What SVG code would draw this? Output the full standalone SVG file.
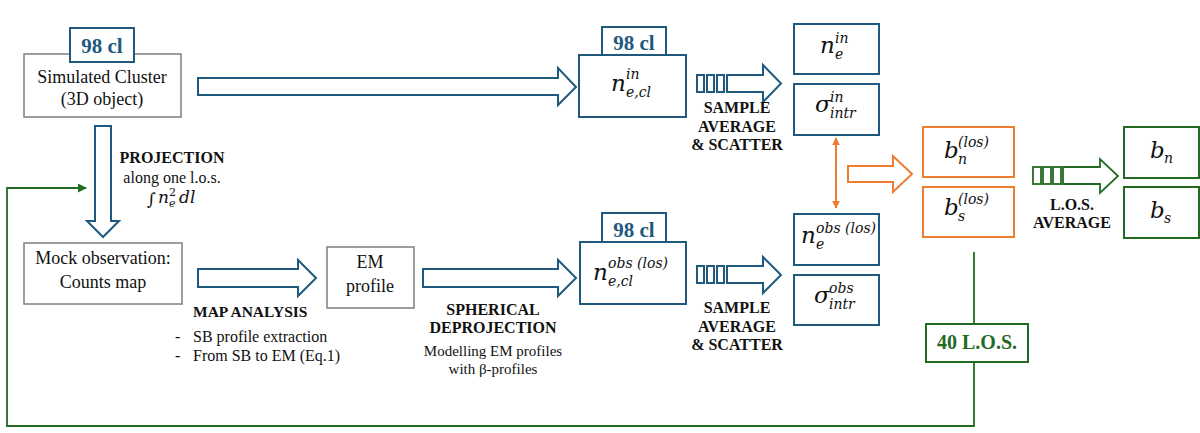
<svg xmlns="http://www.w3.org/2000/svg" width="1200" height="433" viewBox="0 0 1200 433">
<defs>
<style>
.gbox{fill:#fff;stroke:#7f7f7f;stroke-width:1.5}
.bbox{fill:#fff;stroke:#1F5A7E;stroke-width:2}
.obox{fill:#fff;stroke:#ED7D31;stroke-width:2}
.grbox{fill:#fff;stroke:#236B23;stroke-width:2}
.barrow{fill:#fff;stroke:#1F5A7E;stroke-width:2;stroke-linejoin:miter}
.oarrow{fill:#fff;stroke:#ED7D31;stroke-width:2}
.grarrow{fill:#fff;stroke:#236B23;stroke-width:1.8}
.t{font-family:"Liberation Serif","Times New Roman",serif;fill:#111;font-size:18px}
.tb{font-family:"Liberation Serif","Times New Roman",serif;font-weight:bold;fill:#111;font-size:16px}
.tag{font-family:"Liberation Serif","Times New Roman",serif;font-weight:bold;fill:#1F5A7E;font-size:21px}
.m{font-family:"DejaVu Serif",serif;font-style:italic;fill:#111;font-size:23px}
.s{font-family:"DejaVu Serif",serif;font-style:italic;fill:#111;font-size:14px}
.c{text-anchor:middle}
</style>
<marker id="oh" viewBox="0 0 10 10" refX="9" refY="5" markerWidth="4" markerHeight="4" orient="auto-start-reverse">
<path d="M0,0 L10,5 L0,10 z" fill="#ED7D31"/>
</marker>
<marker id="gh" viewBox="0 0 10 10" refX="9" refY="5" markerWidth="5" markerHeight="5" orient="auto">
<path d="M0,0 L10,5 L0,10 z" fill="#236B23"/>
</marker>
</defs>
<rect width="1200" height="433" fill="#fff"/>

<g id="connectors">
<polygon class="barrow" points="198,78 558,78 558,68 576,87 558,105 558,95 198,95"/>
<polygon class="barrow" points="95,126 111,126 111,221 119,221 103,237 87,221 95,221"/>
<polygon class="barrow" points="198,269 298,269 298,260 316,278 298,296 298,287 198,287"/>
<polygon class="barrow" points="423,269 558,269 558,260 576,278 558,296 558,287 423,287"/>
<g id="avg-top">
<rect class="barrow" x="697" y="75" width="7" height="17"/>
<rect class="barrow" x="707" y="75" width="7" height="17"/>
<rect class="barrow" x="717" y="75" width="7" height="17"/>
<polygon class="barrow" points="727,75 763,75 763,65 781,83.5 763,102 763,92 727,92"/>
</g>
<g id="avg-bottom">
<rect class="barrow" x="697" y="266" width="7" height="17"/>
<rect class="barrow" x="707" y="266" width="7" height="17"/>
<rect class="barrow" x="717" y="266" width="7" height="17"/>
<polygon class="barrow" points="727,266 763,266 763,257 781,275 763,293 763,283 727,283"/>
</g>
<polygon class="oarrow" points="848,166 893,166 893,156 912,174 893,192 893,182 848,182"/>
<line x1="836" y1="138" x2="836" y2="208" stroke="#ED7D31" stroke-width="2" marker-start="url(#oh)" marker-end="url(#oh)"/>
<g id="los-avg">
<rect class="grarrow" x="1033" y="167" width="8" height="17"/>
<rect class="grarrow" x="1043" y="167" width="8" height="17"/>
<rect class="grarrow" x="1053" y="167" width="8" height="17"/>
<polygon class="grarrow" points="1063,167 1100,167 1100,159 1118,176 1100,193 1100,184 1063,184"/>
</g>
<polyline points="974,252 974,324" fill="none" stroke="#236B23" stroke-width="1.8"/>
<polyline points="974,362 974,426 7,426 7,188 86,188" fill="none" stroke="#236B23" stroke-width="1.8" marker-end="url(#gh)"/>
</g>

<g id="sim-cluster">
<rect class="gbox" x="24" y="54" width="157" height="63"/>
<rect class="bbox" x="70" y="28" width="64" height="34"/>
<text class="tag c" x="102" y="53">98 cl</text>
<text class="t c" x="102" y="83">Simulated Cluster</text>
<text class="t c" x="102" y="105">(3D object)</text>
</g>

<g id="projection-label">
<text class="tb c" x="172" y="163">PROJECTION</text>
<text class="t c" x="172" y="183" style="font-size:16px">along one l.o.s.</text>
<text class="m" x="147" y="205" style="font-size:17px;font-style:normal">∫</text>
<text class="m" x="158" y="203" style="font-size:17px">n</text>
<text class="s" x="169" y="196" style="font-size:11px;font-style:normal">2</text>
<text class="s" x="169" y="207" style="font-size:11px">e</text>
<text class="m" x="179" y="203" style="font-size:17px">dl</text>
</g>

<g id="mock-obs">
<rect class="gbox" x="24" y="243" width="158" height="61"/>
<text class="t c" x="103" y="264">Mock observation:</text>
<text class="t c" x="103" y="288">Counts map</text>
</g>

<g id="map-analysis-label">
<text class="tb" x="193" y="317" style="font-size:15.5px">MAP ANALYSIS</text>
<text class="t" x="175" y="342" style="font-size:16px">-</text>
<text class="t" x="193" y="342" style="font-size:16px">SB profile extraction</text>
<text class="t" x="175" y="361" style="font-size:16px">-</text>
<text class="t" x="193" y="361" style="font-size:16px">From SB to EM (Eq.1)</text>
</g>

<g id="em-profile">
<rect class="gbox" x="327" y="247" width="87" height="61"/>
<text class="t c" x="370" y="268">EM</text>
<text class="t c" x="370" y="292">profile</text>
</g>

<g id="deprojection-label">
<text class="tb c" x="493" y="315">SPHERICAL</text>
<text class="tb c" x="493" y="333">DEPROJECTION</text>
<text class="t c" x="493" y="356" style="font-size:15px">Modelling EM profiles</text>
<text class="t c" x="493" y="374" style="font-size:15px">with β-profiles</text>
</g>

<g id="ne-cl-in">
<rect class="bbox" x="579" y="55" width="107" height="62"/>
<rect class="bbox" x="602" y="27" width="64" height="28"/>
<text class="tag c" x="634" y="50">98 cl</text>
<text class="m" x="611" y="91">n</text>
<text class="s" x="626" y="79">in</text>
<text class="s" x="626" y="97">e,cl</text>
</g>

<g id="ne-cl-obs">
<rect class="bbox" x="580" y="242" width="106" height="62"/>
<rect class="bbox" x="602" y="213" width="64" height="29"/>
<text class="tag c" x="634" y="237">98 cl</text>
<text class="m" x="593" y="280">n</text>
<text class="s" x="608" y="268">obs (los)</text>
<text class="s" x="608" y="286">e,cl</text>
</g>

<g id="sample-labels">
<text class="tb c" x="737" y="113">SAMPLE</text>
<text class="tb c" x="737" y="132">AVERAGE</text>
<text class="tb c" x="737" y="150">&amp; SCATTER</text>
<text class="tb c" x="737" y="313">SAMPLE</text>
<text class="tb c" x="737" y="332">AVERAGE</text>
<text class="tb c" x="737" y="350">&amp; SCATTER</text>
</g>

<g id="ne-in">
<rect class="bbox" x="794" y="24" width="85" height="50"/>
<text class="m" x="820" y="53">n</text>
<text class="s" x="835" y="43">in</text>
<text class="s" x="835" y="59">e</text>
</g>
<g id="sigma-in">
<rect class="bbox" x="794" y="84" width="85" height="51"/>
<text class="m" x="815" y="112">σ</text>
<text class="s" x="830" y="102">in</text>
<text class="s" x="830" y="118">intr</text>
</g>
<g id="ne-obs">
<rect class="bbox" x="794" y="214" width="85" height="51"/>
<text class="m" x="801" y="243">n</text>
<text class="s" x="816" y="233">obs (los)</text>
<text class="s" x="816" y="249">e</text>
</g>
<g id="sigma-obs">
<rect class="bbox" x="794" y="275" width="85" height="50"/>
<text class="m" x="814" y="303">σ</text>
<text class="s" x="829" y="293">obs</text>
<text class="s" x="829" y="309">intr</text>
</g>

<g id="bn-los">
<rect class="obox" x="923" y="127" width="91" height="50"/>
<text class="m" x="944" y="158">b</text>
<text class="s" x="958" y="147">(los)</text>
<text class="s" x="958" y="164">n</text>
</g>
<g id="bs-los">
<rect class="obox" x="923" y="187" width="91" height="50"/>
<text class="m" x="944" y="215">b</text>
<text class="s" x="958" y="204">(los)</text>
<text class="s" x="958" y="221">s</text>
</g>

<g id="los-avg-label">
<text class="tb c" x="1072" y="210">L.O.S.</text>
<text class="tb c" x="1072" y="228">AVERAGE</text>
</g>

<g id="bn">
<rect class="grbox" x="1124" y="127" width="75" height="51"/>
<text class="m" x="1150" y="158">b</text>
<text class="s" x="1164" y="163">n</text>
</g>
<g id="bs">
<rect class="grbox" x="1124" y="187" width="75" height="51"/>
<text class="m" x="1150" y="218">b</text>
<text class="s" x="1164" y="223">s</text>
</g>

<g id="los-40">
<rect class="grbox" x="926" y="324" width="102" height="38"/>
<text class="tb c" x="977" y="349" style="font-size:20px;fill:#236B23">40 L.O.S.</text>
</g>
</svg>
